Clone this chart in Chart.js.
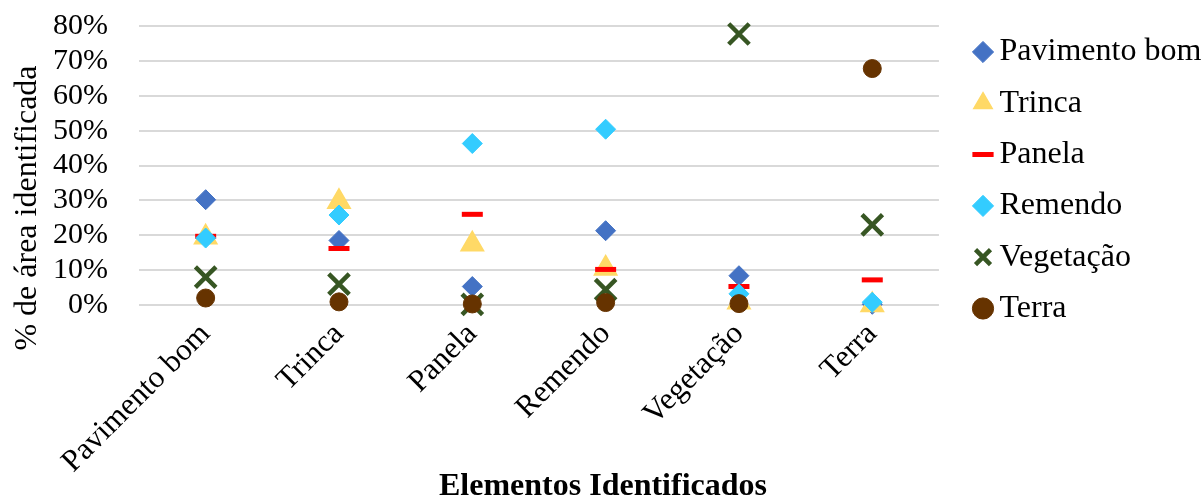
<!DOCTYPE html>
<html>
<head>
<meta charset="utf-8">
<script src="https://cdn.jsdelivr.net/npm/chart.js@4.4.1/dist/chart.umd.min.js"></script>
<style>
  html, body { margin: 0; padding: 0; background: #ffffff; }
  #wrap { width: 1203px; height: 500px; }
</style>
</head>
<body>
<div id="wrap"><canvas id="chart" width="1203" height="500"></canvas></div>
<script>
// Categories along the x axis
const categories = ['Pavimento bom', 'Trinca', 'Panela', 'Remendo', 'Vegetação', 'Terra'];

// Share of identified area (%) for each element, per category
const pavimentoBom = [30.2, 18.5, 5.3, 21.3, 8.4, 0.2];
const trinca       = [19.4, 29.6, 17.4, 10.5, 0.8, 0.0];
const panela       = [19.7, 16.2, 26.0, 10.2, 5.3, 7.2];
const remendo      = [19.2, 25.8, 46.3, 50.4, 3.2, 0.8];
const vegetacao    = [8.0, 6.0, 0.2, 4.4, 77.7, 23.0];
const terra        = [2.0, 0.9, 0.3, 0.7, 0.4, 67.8];

// Y axis ticks
const yTicks = [0, 10, 20, 30, 40, 50, 60, 70, 80];

const xTitle = 'Elementos Identificados';
const yTitle = '% de área identificada';

const FONT = '"Liberation Serif", "Times New Roman", serif';

function series(label, data, style, color, radius, borderWidth, order) {
  return {
    label: label,
    data: data,
    showLine: false,
    order: order,
    clip: false,
    pointStyle: style,
    pointRadius: radius,
    pointHoverRadius: radius,
    pointBackgroundColor: color,
    pointBorderColor: color,
    pointBorderWidth: borderWidth,
    backgroundColor: color,
    borderColor: color
  };
}

// Axis titles, placed like the original layout
const axisTitles = {
  id: 'axisTitles',
  afterDraw(chart, args, opts) {
    const ctx = chart.ctx;
    ctx.save();
    ctx.fillStyle = '#000';
    ctx.textAlign = 'center';
    ctx.textBaseline = 'middle';
    ctx.font = 'bold 32px ' + FONT;
    ctx.fillText(xTitle, opts.xTitleX, opts.xTitleY);
    ctx.translate(opts.yTitleX, opts.yTitleY);
    ctx.rotate(-Math.PI / 2);
    ctx.font = '32px ' + FONT;
    ctx.fillText(yTitle, 0, 0);
    ctx.restore();
  }
};

// Moves the legend block so its first marker sits at the given point
const legendPlace = {
  id: 'legendPlace',
  afterLayout(chart, args, opts) {
    const lg = chart.legend;
    if (!lg) return;
    const lab = lg.options.labels;
    const fs = lab.font.size;
    const dx = opts.markerX - (lg.left + lab.padding + lab.boxWidth / 2);
    const dy = opts.markerY - (lg.top + lab.padding + fs / 2);
    lg.left += dx; lg.right += dx;
    lg.top += dy; lg.bottom += dy;
  }
};

const ctx = document.getElementById('chart').getContext('2d');
new Chart(ctx, {
  type: 'line',
  data: {
    labels: categories,
    datasets: [
      series('Pavimento bom', pavimentoBom, 'rectRot', '#4472C4', 10, 1, 6),
      series('Trinca', trinca, 'triangle', '#FFD966', 13, 1.5, 5),
      series('Panela', panela, 'line', '#FF0000', 10.5, 5, 4),
      series('Remendo', remendo, 'rectRot', '#33CCFF', 10, 1, 3),
      series('Vegetação', vegetacao, 'crossRot', '#375623', 14.5, 4.5, 2),
      series('Terra', terra, 'circle', '#663300', 9, 1, 1)
    ]
  },
  plugins: [axisTitles, legendPlace],
  options: {
    responsive: false,
    animation: false,
    events: [],
    layout: { autoPadding: false, padding: { left: 0, right: 16, top: 26, bottom: 0 } },
    scales: {
      x: {
        type: 'category',
        offset: true,
        grid: { display: false, drawTicks: false },
        border: { display: false },
        ticks: {
          color: '#000',
          font: { family: FONT, size: 31 },
          minRotation: 45,
          maxRotation: 45,
          autoSkip: false,
          padding: 11
        },
        afterFit(scale) { scale.height = 195; }
      },
      y: {
        min: 0,
        max: 80,
        afterBuildTicks(scale) { scale.ticks = yTicks.map(v => ({ value: v })); },
        grid: {
          color: '#D9D9D9',
          lineWidth: 2,
          drawTicks: true,
          tickLength: 31,
          tickColor: 'rgba(0,0,0,0)'
        },
        border: { display: false },
        ticks: {
          color: '#000',
          font: { family: FONT, size: 30 },
          padding: 0,
          autoSkip: false,
          callback: v => v + '%'
        },
        afterFit(scale) { scale.width = 139; }
      }
    },
    plugins: {
      tooltip: { enabled: false },
      legend: {
        position: 'right',
        align: 'start',
        reverse: true,
        labels: {
          usePointStyle: true,
          boxWidth: 1,
          boxHeight: 15,
          padding: 19.3,
          color: '#000',
          font: { family: FONT, size: 32 }
        }
      },
      legendPlace: { markerX: 983, markerY: 52 },
      axisTitles: { xTitleX: 603, xTitleY: 487, yTitleX: 28, yTitleY: 208 }
    }
  }
});
</script>
</body>
</html>
